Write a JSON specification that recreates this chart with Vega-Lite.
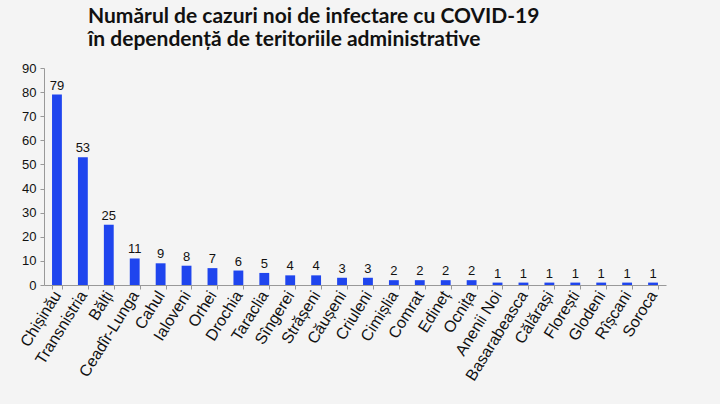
{
  "$schema": "https://vega.github.io/schema/vega-lite/v6.json",
  "autosize": "none",
  "width": 622,
  "height": 217,
  "padding": {"left": 44, "top": 68, "right": 54, "bottom": 119},
  "background": "#f4f4f4",
  "title": {
    "text": ["Numărul de cazuri noi de infectare cu COVID-19", "în dependență de teritoriile administrative"],
    "anchor": "start",
    "frame": "group",
    "dx": 44,
    "offset": 12,
    "font": "Lato",
    "fontSize": 21,
    "fontWeight": "bold",
    "color": "#111111",
    "lineHeight": 23
  },
  "data": {
    "values": [
      {"raion": "Chișinău", "cazuri": 79},
      {"raion": "Transnistria", "cazuri": 53},
      {"raion": "Bălți", "cazuri": 25},
      {"raion": "Ceadîr-Lunga", "cazuri": 11},
      {"raion": "Cahul", "cazuri": 9},
      {"raion": "Ialoveni", "cazuri": 8},
      {"raion": "Orhei", "cazuri": 7},
      {"raion": "Drochia", "cazuri": 6},
      {"raion": "Taraclia", "cazuri": 5},
      {"raion": "Sîngerei", "cazuri": 4},
      {"raion": "Strășeni", "cazuri": 4},
      {"raion": "Căușeni", "cazuri": 3},
      {"raion": "Criuleni", "cazuri": 3},
      {"raion": "Cimișlia", "cazuri": 2},
      {"raion": "Comrat", "cazuri": 2},
      {"raion": "Edineț", "cazuri": 2},
      {"raion": "Ocnița", "cazuri": 2},
      {"raion": "Anenii Noi", "cazuri": 1},
      {"raion": "Basarabeasca", "cazuri": 1},
      {"raion": "Călărași", "cazuri": 1},
      {"raion": "Florești", "cazuri": 1},
      {"raion": "Glodeni", "cazuri": 1},
      {"raion": "Rîșcani", "cazuri": 1},
      {"raion": "Soroca", "cazuri": 1}
    ]
  },
  "config": {
    "view": {"stroke": null},
    "axis": {"grid": false, "domainColor": "#999999", "tickColor": "#999999", "labelFont": "Liberation Sans", "labelColor": "#111111", "title": null}
  },
  "encoding": {
    "x": {
      "field": "raion", "type": "nominal", "sort": null,
      "scale": {"paddingInner": 0.62, "paddingOuter": 0.31},
      "axis": {"labelAngle": -58, "labelFontSize": 16, "labelFont": "Liberation Sans", "tickBand": "extent", "tickSize": 4, "labelPadding": 3}
    },
    "y": {
      "field": "cazuri", "type": "quantitative",
      "scale": {"domain": [0, 90]},
      "axis": {"values": [0,10,20,30,40,50,60,70,80,90], "labelFontSize": 13, "labelFont": "Liberation Sans", "tickSize": 4, "labelPadding": 4}
    }
  },
  "layer": [
    {"mark": {"type": "bar", "color": "#1f45ee"}},
    {"mark": {"type": "text", "dy": -9, "font": "Liberation Sans", "fontSize": 13, "color": "#111111"},
     "encoding": {"text": {"field": "cazuri", "type": "quantitative"}}}
  ]
}
